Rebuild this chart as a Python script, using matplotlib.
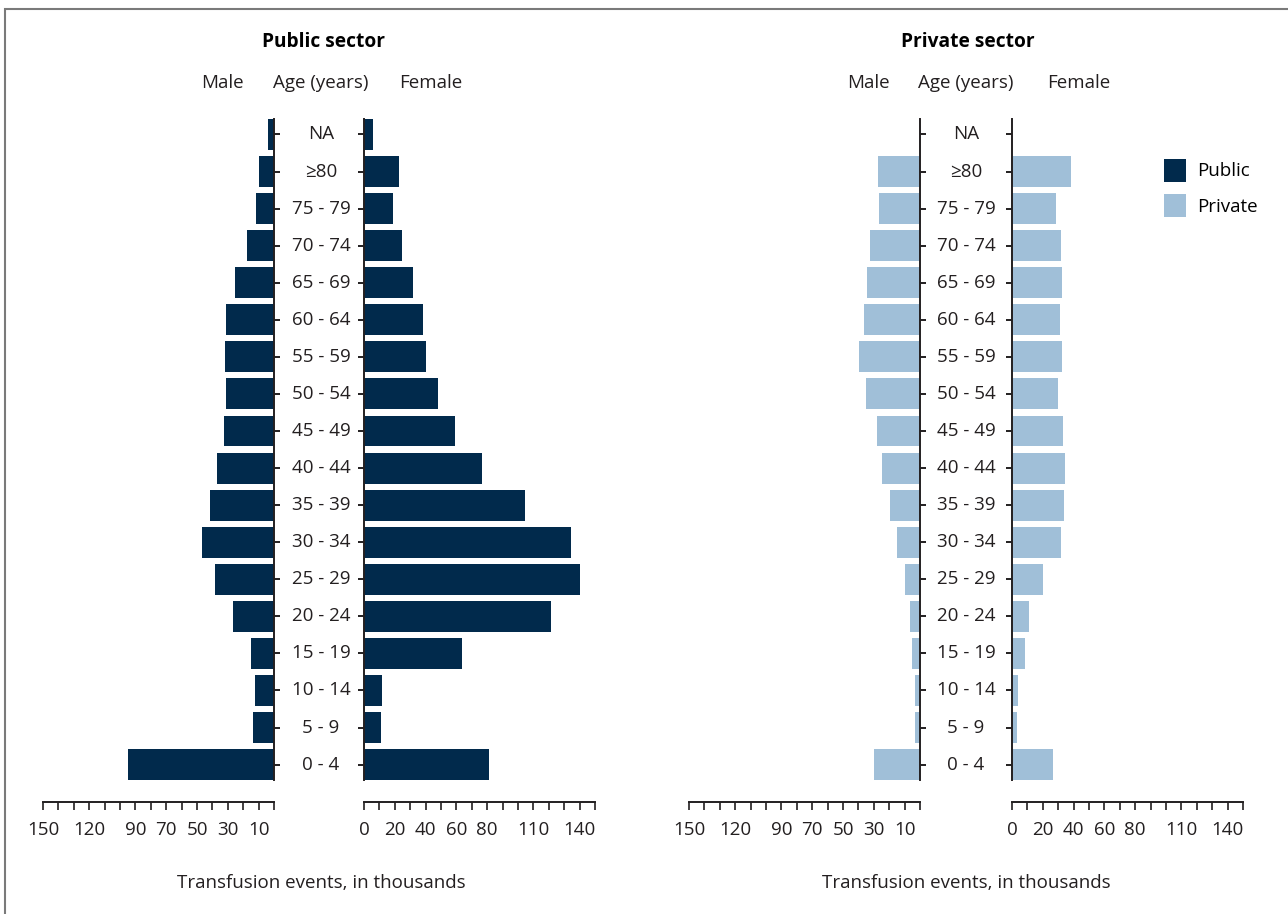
import numpy as np
import matplotlib
matplotlib.use("Agg")
import matplotlib.pyplot as plt
import matplotlib.transforms as mtransforms
from matplotlib.patches import Patch, Rectangle

plt.rcParams['font.family'] = ['Open Sans', 'DejaVu Sans']

# age groups, bottom to top
ages = ['0 - 4', '5 - 9', '10 - 14', '15 - 19', '20 - 24', '25 - 29', '30 - 34',
        '35 - 39', '40 - 44', '45 - 49', '50 - 54', '55 - 59', '60 - 64',
        '65 - 69', '70 - 74', '75 - 79', '\u226580', 'NA']

# transfusion events, in thousands
public_male = [95, 13.6, 12.3, 15, 26.6, 38.3, 46.8, 41.6, 37, 32.7, 31.4, 32, 31.4,
               25.5, 17.7, 11.9, 10, 4.1]
public_female = [81.4, 11.2, 11.9, 63.8, 121.6, 140.5, 134.6, 104.7, 76.8, 59.3, 48, 40, 38,
                 32, 24.9, 19, 22.9, 6]
private_male = [29.7, 3, 3, 5, 6.3, 9.5, 14.7, 19.3, 24.5, 27.7, 34.9, 39.4, 36.2,
                34.2, 32.3, 26.6, 27, 0]
private_female = [26.8, 3.5, 4.1, 8.6, 11.2, 20.3, 32, 34, 34.6, 33.3, 30, 32.7, 31.4,
                  32.7, 32, 28.8, 38.5, 0]

male_ticklabels = [150, 120, 90, 70, 50, 30, 10]
female_ticklabels = [0, 20, 40, 60, 80, 110, 140]

dark = '#012a4c'
light = '#a0bfd8'
ink = '#231f20'
fs = 13.5

W, H = 1288, 914
fig = plt.figure(figsize=(W / 100, H / 100), dpi=100)


def fbox(x0, x1, ytop, ybot):
    return [x0 / W, 1 - ybot / H, (x1 - x0) / W, (ybot - ytop) / H]


y = np.arange(len(ages))
ylim = (-1.01, 17.418)


def setup(ax, side, labels):
    ax.set_ylim(*ylim)
    ax.set_xlim(0, 150)
    for s in ['top', 'left', 'right', 'bottom']:
        ax.spines[s].set_visible(False)
    ax.spines['bottom'].set_visible(True)
    ax.spines['bottom'].set_linewidth(1.4)
    ax.spines['bottom'].set_color(ink)
    ax.spines[side].set_visible(True)
    ax.spines[side].set_linewidth(1.4)
    ax.spines[side].set_color(ink)
    ax.spines[side].set_bounds(-0.418, 17.418)
    ax.set_xticks(np.arange(0, 151, 10))
    ax.set_xticklabels([str(v) if v in labels else '' for v in range(0, 151, 10)],
                       fontsize=fs, color=ink)
    ax.tick_params(axis='x', direction='out', length=6, width=1.2, color=ink, pad=7.5)
    ax.set_yticks(y)
    ax.set_yticklabels([])
    if side == 'right':
        ax.yaxis.tick_right()
        ax.invert_xaxis()
    ax.tick_params(axis='y', direction='out', length=4, width=1.4, color=ink)
    ax.set_facecolor('none')


panels = [
    (43, 274, 364, 595, public_male, public_female, dark, 'Public sector', 321),
    (689, 920, 1012, 1243, private_male, private_female, light, 'Private sector', 966),
]

for mx0, mx1, fx0, fx1, mvals, fvals, col, title, cx in panels:
    axm = fig.add_axes(fbox(mx0, mx1, 119, 802))
    axf = fig.add_axes(fbox(fx0, fx1, 119, 802))
    axm.barh(y, mvals, height=0.836, color=col)
    axf.barh(y, fvals, height=0.836, color=col)
    setup(axm, 'right', male_ticklabels)
    setup(axf, 'left', female_ticklabels)

    tr = mtransforms.blended_transform_factory(fig.transFigure, axm.transData)
    for i, a in enumerate(ages):
        fig.text(cx / W, i, a, transform=tr, ha='center', va='center',
                 fontsize=fs, color=ink)

    fig.text((cx + 2) / W, 1 - 42 / H, title, ha='center', va='center',
             fontsize=fs + 0.3, fontweight='bold', color='black')
    fig.text((mx1 - 52) / W, 1 - 83 / H, 'Male', ha='center', va='center',
             fontsize=fs, color=ink)
    fig.text(cx / W, 1 - 83 / H, 'Age (years)', ha='center', va='center',
             fontsize=fs, color=ink)
    fig.text((fx0 + 67) / W, 1 - 83 / H, 'Female', ha='center', va='center',
             fontsize=fs, color=ink)
    fig.text(cx / W, 1 - 883 / H, 'Transfusion events, in thousands',
             ha='center', va='center', fontsize=fs, color=ink)

handles = [Patch(facecolor=dark, edgecolor='none', label='Public'),
           Patch(facecolor=light, edgecolor='none', label='Private')]
fig.legend(handles=handles, loc='upper left', bbox_to_anchor=(1158 / W, 1 - 153 / H),
           frameon=False, fontsize=fs, handlelength=1.2, handleheight=1.5,
           handletextpad=0.6, labelspacing=0.68, borderaxespad=0, borderpad=0.3)

# grey frame around the figure (only top and left visible)
fig.patches.append(Rectangle((5 / W, -0.1), 2, 1 - 8.5 / H + 0.1, transform=fig.transFigure,
                             fill=False, edgecolor='#7a7a7a', linewidth=1.5))

fig.savefig('out.png', dpi=100)
